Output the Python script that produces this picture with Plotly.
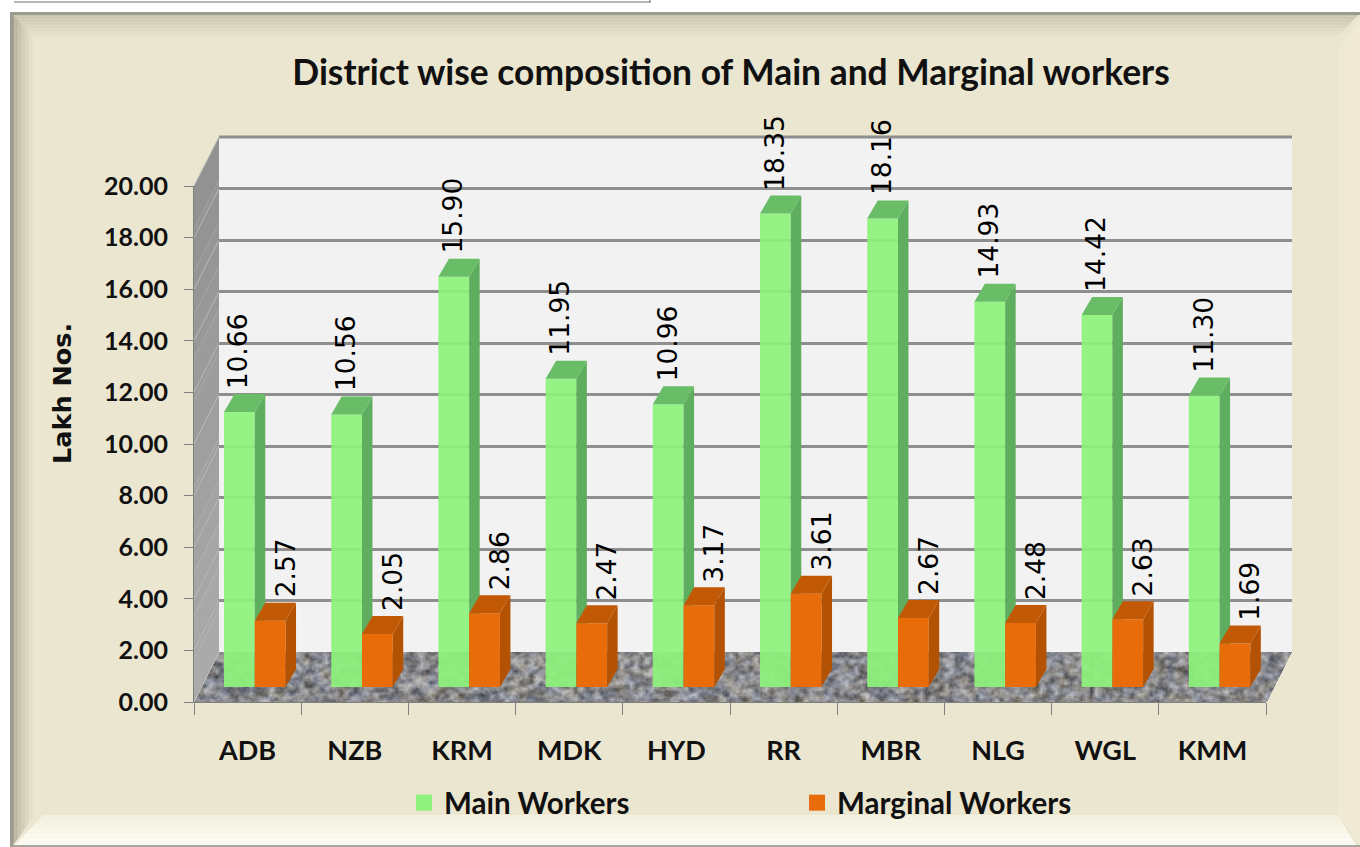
import base64, struct, zlib
import numpy as np
import plotly.graph_objects as go

categories = ["ADB", "NZB", "KRM", "MDK", "HYD", "RR", "MBR", "NLG", "WGL", "KMM"]
main_workers = [10.66, 10.56, 15.90, 11.95, 10.96, 18.35, 18.16, 14.93, 14.42, 11.30]
marginal_workers = [2.57, 2.05, 2.86, 2.47, 3.17, 3.61, 2.67, 2.48, 2.63, 1.69]
y_ticks = [0, 2, 4, 6, 8, 10, 12, 14, 16, 18, 20]

W, H = 1360, 847
L, R, T, B = 194, 1292, 137, 835  # plot area, tall enough to hold the legend
FRONT = 702  # pixel row of the value axis zero
PW, PH = R - L, B - T
HEAD = "Lato, Noto Sans, sans-serif"
UX, UY = 107.2, 25.8
positions = list(range(len(categories)))


def px(x):
    return (x - L) / PW


def py(y):
    return (B - y) / PH


def poly(pts, color, line=None, width=0):
    p = "M " + " L ".join(f"{px(x):.5f} {py(y):.5f}" for x, y in pts) + " Z"
    return dict(type="path", xref="paper", yref="paper", path=p, fillcolor=color, layer="below",
                line=dict(width=width, color=line or color))


def mix(a, b, t):
    return "rgb(" + ",".join(str(int(round(a[i] + (b[i] - a[i]) * t))) for i in range(3)) + ")"


shapes = []
# outer white margin and frame
shapes.append(poly([(0, 0), (W, 0), (W, 12), (10, 12), (10, H), (0, H)], "#ffffff"))
shapes.append(poly([(10, 12), (W, 12), (W, 15), (13, 15), (13, H), (10, H)], "#9b9b8e"))
shapes.append(poly([(13, 845), (W, 845), (W, H), (13, H)], "#a9a89c"))
# bevel: top
n = 16
for i in range(n):
    y0, y1 = 15 + 24 * i / n, 15 + 24 * (i + 1) / n
    shapes.append(poly([(13, y0), (1358 - 22 * i / n, y0), (1358 - 22 * (i + 1) / n, y1), (13, y1)],
                       mix((200, 197, 176), (235, 230, 208), i / (n - 1))))
# bevel: left
for i in range(n):
    x0, x1 = 13 + 22 * i / n, 13 + 22 * (i + 1) / n
    shapes.append(poly([(x0, 15 + 24 * i / n), (x1, 15 + 24 * (i + 1) / n),
                        (x1, 845 - 30 * (i + 1) / n), (x0, 845 - 30 * i / n)],
                       mix((170, 166, 146), (235, 230, 208), (i / (n - 1)) ** 0.7)))
# bevel: right
shapes.append(poly([(1338, 52), (1360, 18), (1360, 845), (1338, 815)], "#efe9d6"))
# bevel: bottom
for i in range(8):
    y0, y1 = 815 + 30 * i / 8, 815 + 30 * (i + 1) / 8
    shapes.append(poly([(43 - 28 * i / 8, y0), (1338 + 18 * i / 8, y0), (1338 + 18 * (i + 1) / 8, y1),
                        (43 - 28 * (i + 1) / 8, y1)],
                       mix((244, 241, 224), (253, 252, 244), i / 7)))
# stray box edge at the top left
shapes.append(dict(type="line", xref="paper", yref="paper", layer="below", x0=px(14), x1=px(650), y0=py(2), y1=py(2),
                   line=dict(color="#6f6f6f", width=1)))
shapes.append(dict(type="line", xref="paper", yref="paper", layer="below", x0=px(650), x1=px(650), y0=py(0), y1=py(3),
                   line=dict(color="#6f6f6f", width=1)))
# walls
shapes.append(poly([(219, 137), (1292, 137), (1292, 652), (219, 652)], "#f2f2f2"))
shapes.append(dict(type="line", xref="paper", yref="paper", layer="below", x0=px(219), x1=px(1292), y0=py(137), y1=py(137),
                   line=dict(color="#8e8e8e", width=3)))
for i in range(12):
    a, b = i / 12, (i + 1) / 12
    shapes.append(poly([(194, 186 + 516 * a), (219, 137 + 515 * a), (219, 137 + 515 * b), (194, 186 + 516 * b)],
                       mix((146, 146, 146), (172, 172, 172), a)))
for v in y_ticks:
    f = v / 20
    shapes.append(dict(type="line", xref="paper", yref="paper", layer="below", x0=px(194), x1=px(219),
                       y0=py(702 - 516 * f), y1=py(652 - 515 * f), line=dict(color="#b8b8b8", width=1)))

# speckled stone floor as a small image
fw, fh = R - L, FRONT - 650
yy, xx = np.mgrid[0:fh, 0:fw]


def grain(sx, sy, kx=12.9898, ky=78.233):
    a = np.sin(np.floor(xx / sx) * kx + np.floor(yy / sy) * ky) * 43758.5453
    return a - np.floor(a)


def blur(a, k):
    for axis in (0, 1):
        a = sum(np.roll(a, s, axis=axis) for s in range(-k, k + 1)) / (2 * k + 1)
    return a


def norm(a):
    return (a - a.mean()) / a.std()


tex = 0.75 * norm(blur(grain(5, 3), 2)) + 0.35 * norm(blur(grain(2, 1), 1))
tint = norm(blur(grain(9, 5, 39.346, 11.135), 3))
g = 136 + 24 * tex
slant = (fh - yy) / fh * 26
alpha = ((xx >= slant) & (xx <= 1072 + slant)) * 255
rgba = np.dstack([g - 2 * tint, g, g + 3 + 5 * tint, alpha]).clip(0, 255).astype(np.uint8)
raw = b"".join(b"\x00" + rgba[r].tobytes() for r in range(fh))


def chunk(t, d):
    return struct.pack(">I", len(d)) + t + d + struct.pack(">I", zlib.crc32(t + d))


png = (b"\x89PNG\r\n\x1a\n" + chunk(b"IHDR", struct.pack(">IIBBBBB", fw, fh, 8, 6, 0, 0, 0)) +
       chunk(b"IDAT", zlib.compress(raw)) + chunk(b"IEND", b""))
floor_src = "data:image/png;base64," + base64.b64encode(png).decode()

# bar geometry (category units / value units)
BAR_W = 0.287
MAIN_OFF = (224 - 247.6) / UX
MARG_OFF = MAIN_OFF + BAR_W
DX, DY = 10.5 / UX, 18 / UY


def faces(values, off):
    tx, ty, sx, sy = [], [], [], []
    for p, v in zip(positions, values):
        a, b = p + off, p + off + BAR_W
        tx += [a, b, b + DX, a + DX, a, None]
        ty += [v, v, v + DY, v + DY, v, None]
        sx += [b, b + DX, b + DX, b, b, None]
        sy += [0, DY, v + DY, v, 0, None]
    return tx, ty, sx, sy


fig = go.Figure()
# invisible carriers so the back-wall grid and the visible axes exist
fig.add_trace(go.Scatter(x=[0], y=[0], mode="markers", marker=dict(opacity=0), xaxis="x", yaxis="y",
                         showlegend=False, hoverinfo="skip"))
fig.add_trace(go.Scatter(x=[0], y=[0], mode="markers", marker=dict(opacity=0), xaxis="x2", yaxis="y2",
                         showlegend=False, hoverinfo="skip"))

for name, vals, off, col, topc, sidec, xa, ya, op in [
    ("Main Workers", main_workers, MAIN_OFF, "#8ef27c", "#69bd67", "#5fae5f", "x3", "y3", 0.93),
    ("Marginal Workers", marginal_workers, MARG_OFF, "#e96c0a", "#c25a05", "#b45204", "x4", "y4", 1),
]:
    tx, ty, sx, sy = faces(vals, off)
    fig.add_trace(go.Bar(x=positions, y=vals, name=name, width=BAR_W, offset=off,
                         marker=dict(color=col, line=dict(width=0)), opacity=op, xaxis=xa, yaxis=ya, showlegend=False))
    fig.add_trace(go.Scatter(x=sx, y=sy, mode="lines", fill="toself", fillcolor=sidec, line=dict(width=0),
                             xaxis=xa, yaxis=ya, showlegend=False, hoverinfo="skip"))
    fig.add_trace(go.Scatter(x=tx, y=ty, mode="lines", fill="toself", fillcolor=topc, line=dict(width=0),
                             xaxis=xa, yaxis=ya, showlegend=False, hoverinfo="skip"))
    # legend swatch
    fig.add_trace(go.Scatter(x=[None], y=[None], mode="markers", name=name, xaxis=xa, yaxis=ya,
                             marker=dict(symbol="square", size=16, color=col)))

annotations = [dict(text="<b>Lakh Nos.</b>", xref="paper", yref="paper", x=px(62), y=py(394), textangle=-90,
                    xanchor="center", yanchor="middle", showarrow=False,
                    font=dict(family="DejaVu Sans", size=25.5, color="#111111"))]
LABEL_FONT = dict(family="DejaVu Sans", size=26.5, color="#000000")
for p, v in zip(positions, main_workers):
    annotations.append(dict(text=f"{v:.2f}", xref="x3", yref="y3", x=p + MAIN_OFF + BAR_W / 2 - 1 / UX, y=v + DY,
                            textangle=-90, yanchor="bottom", xanchor="center", showarrow=False, yshift=3,
                            font=LABEL_FONT))
for p, v in zip(positions, marginal_workers):
    annotations.append(dict(text=f"{v:.2f}", xref="x4", yref="y4", x=p + MARG_OFF + BAR_W / 2 + 15 / UX, y=v + DY,
                            textangle=-90, yanchor="bottom", xanchor="center", showarrow=False, yshift=3,
                            font=LABEL_FONT))

x_full = [-0.5, -0.5 + PW / UX]
y_full = [(687 - FRONT) / UY, (687 - T) / UY]
hidden = dict(visible=False, showgrid=False, zeroline=False, fixedrange=True)

fig.update_layout(
    width=W, height=H, autosize=False,
    margin=dict(l=L, r=W - R, t=T, b=H - B, pad=0, autoexpand=False),
    paper_bgcolor="#ebe6d0", plot_bgcolor="rgba(0,0,0,0)",
    barmode="overlay", shapes=shapes, annotations=annotations,
    images=[dict(source=floor_src, xref="paper", yref="paper", x=0, y=py(650), sizex=1, sizey=(FRONT - 650) / PH,
                 sizing="stretch", xanchor="left", yanchor="top", layer="below")],
    title=dict(text="<b>District wise composition of Main and Marginal workers</b>", x=731 / W, y=1 - 73 / H,
               xanchor="center", yanchor="middle", font=dict(family=HEAD, size=35.4, color="#111111")),
    legend=dict(orientation="h", x=px(404), y=py(829), xanchor="left",
                yanchor="bottom", entrywidth=348, entrywidthmode="pixels", bgcolor="rgba(0,0,0,0)", traceorder="normal",
                font=dict(family=HEAD, size=29.5, color="#111111", weight=700)),
    # back wall grid
    xaxis=dict(domain=[25 / PW, 1], range=[0, 1], anchor="y", **hidden),
    yaxis=dict(domain=[py(652), 1], range=[0, 20], anchor="x", dtick=2, showgrid=True, gridcolor="#8e8e8e", gridwidth=3,
               showticklabels=False, ticks="", zeroline=False, showline=False, fixedrange=True),
    # visible axes
    xaxis2=dict(domain=[0, 1072 / PW], range=[-0.5, 9.5], anchor="y2", tickmode="array", tickvals=positions,
                ticktext=categories, ticks="", showgrid=False, zeroline=False, showline=True, linecolor="#808080",
                linewidth=1, ticklabelstandoff=25, tickfont=dict(family=HEAD, size=27, color="#111111", weight=700),
                minor=dict(tickmode="array", tickvals=[p - 0.5 for p in positions] + [9.5], ticks="outside", ticklen=12,
                           tickcolor="#808080", tickwidth=1, showgrid=False), fixedrange=True),
    yaxis2=dict(domain=[py(FRONT), py(186)], range=[0, 20], anchor="x2", tickmode="array", tickvals=y_ticks,
                tickformat=".2f", ticks="outside", ticklen=9, tickcolor="#808080", showgrid=False, zeroline=False,
                showline=True, linecolor="#808080", ticklabelstandoff=11,
                tickfont=dict(family=HEAD, size=25, color="#111111", weight=700), fixedrange=True),
    # bar planes
    xaxis3=dict(domain=[0, 1], range=x_full, anchor="y3", **hidden),
    yaxis3=dict(domain=[py(FRONT), 1], range=y_full, anchor="x3", **hidden),
    xaxis4=dict(range=x_full, overlaying="x3", anchor="y4", **hidden),
    yaxis4=dict(range=y_full, overlaying="y3", anchor="x4", **hidden),
)

fig.write_html("out.html", config=dict(displayModeBar=False),
               post_script="document.body.style.margin='0';")
